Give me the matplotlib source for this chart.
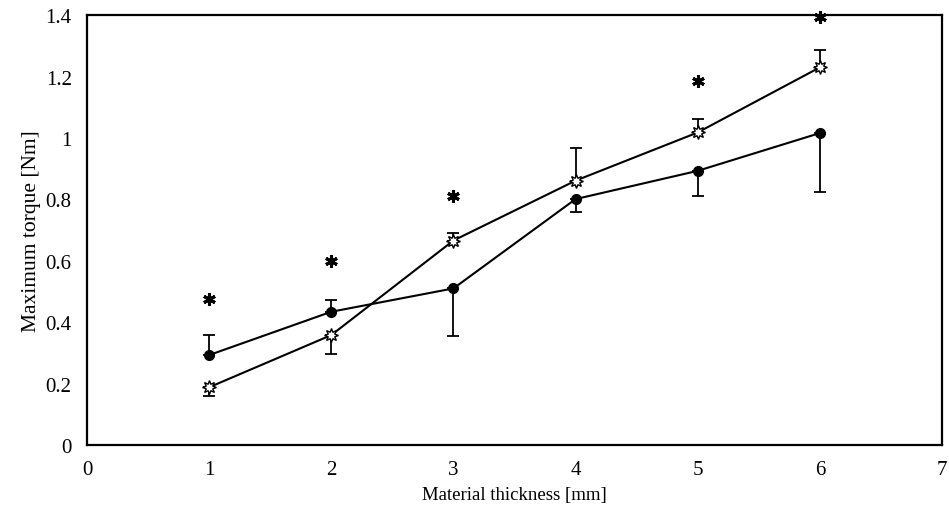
import matplotlib
matplotlib.use("Agg")
import matplotlib.pyplot as plt

thickness = [1, 2, 3, 4, 5, 6]
torque_dot = [0.293, 0.434, 0.510, 0.801, 0.893, 1.016]
err_dot_up = [0.066, 0.039, 0, 0, 0, 0]
err_dot_down = [0, 0, 0.154, 0.043, 0.081, 0.191]
torque_star = [0.188, 0.358, 0.666, 0.861, 1.018, 1.230]
err_star_up = [0, 0, 0.024, 0.106, 0.044, 0.057]
err_star_down = [0.027, 0.062, 0, 0, 0, 0]
sig_y = [0.475, 0.60, 0.81, None, 1.186, 1.394]

plt.rcParams['font.family'] = ['Liberation Serif']

fig = plt.figure(figsize=(9.49, 5.06), dpi=100)
ax = fig.add_axes([0.0917, 0.1186, 0.9009, 0.8494])

ax.errorbar(thickness, torque_dot, yerr=[err_dot_down, err_dot_up], fmt='o-',
            color='black', ms=7, lw=1.5, elinewidth=1.3, capsize=4.5, capthick=1.3, zorder=3)
ax.errorbar(thickness, torque_star, yerr=[err_star_down, err_star_up], fmt='-',
            color='black', lw=1.5, elinewidth=1.3, capsize=4.5, capthick=1.3, zorder=3)
ax.plot(thickness, torque_star, linestyle='none', marker=(8, 1, 0), ms=10,
        mfc='white', mec='black', mew=1.0, zorder=4)

sx = [x for x, y in zip(thickness, sig_y) if y is not None]
sy = [y for y in sig_y if y is not None]
ax.plot(sx, sy, linestyle='none', marker=(6, 2, 0), ms=9, mew=2.2, color='black', clip_on=False)

ax.set_xlim(0, 7)
ax.set_ylim(0, 1.4)
ax.set_xticks(range(0, 8))
ax.set_yticks([0, 0.2, 0.4, 0.6, 0.8, 1.0, 1.2, 1.4])
ax.set_yticklabels(['0', '0.2', '0.4', '0.6', '0.8', '1', '1.2', '1.4'])
ax.tick_params(length=0, labelsize=15, pad=11)
ax.tick_params(axis='x', pad=11)
for s in ax.spines.values():
    s.set_linewidth(1.6)

ax.set_xlabel('Material thickness [mm]', fontsize=13.5, labelpad=5)
ax.set_ylabel('Maximum torque [Nm]', fontsize=15.5, labelpad=3)

fig.savefig('out.png', dpi=100)
